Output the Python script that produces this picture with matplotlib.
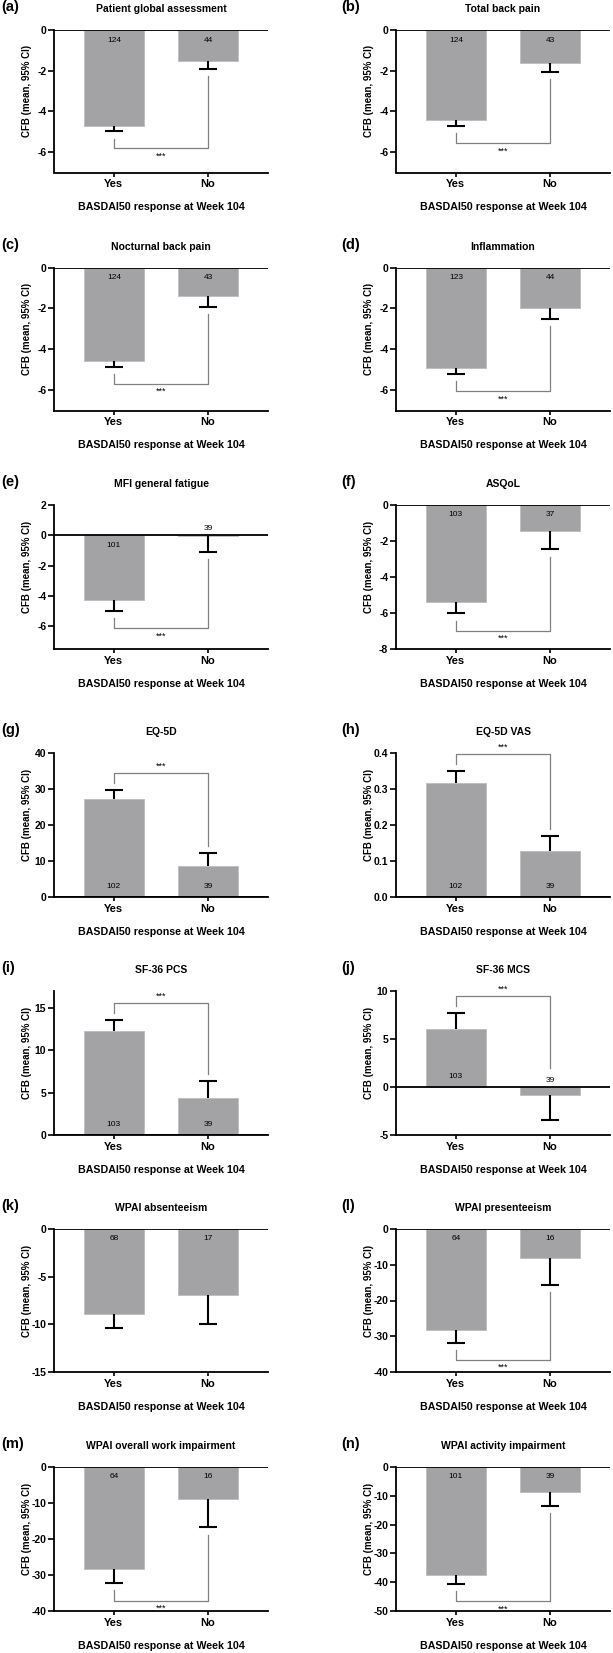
import numpy as np
import matplotlib
matplotlib.use('Agg')
import matplotlib.pyplot as plt

plt.rcParams['font.family'] = ['Liberation Sans', 'DejaVu Sans']
plt.rcParams['axes.unicode_minus'] = False

# data
letters = ['(a)', '(b)', '(c)', '(d)', '(e)', '(f)', '(g)', '(h)', '(i)', '(j)', '(k)', '(l)', '(m)', '(n)']
titles = ['Patient global assessment', 'Total back pain', 'Nocturnal back pain', 'Inflammation',
          'MFI general fatigue', 'ASQoL', 'EQ-5D', 'EQ-5D VAS', 'SF-36 PCS', 'SF-36 MCS',
          'WPAI absenteeism', 'WPAI presenteeism', 'WPAI overall work impairment', 'WPAI activity impairment']
yes_mean = [-4.7, -4.42, -4.6, -4.9, -4.26, -5.37, 27.2, 0.318, 12.3, 6.05, -8.9, -28.2, -28.4, -37.4]
yes_ci = [-4.98, -4.71, -4.85, -5.2, -5.0, -6.02, 29.6, 0.349, 13.6, 7.66, -10.35, -31.8, -32.3, -40.5]
no_mean = [-1.5, -1.61, -1.4, -2.0, -0.05, -1.42, 8.5, 0.129, 4.4, -0.8, -6.97, -8.2, -8.8, -8.7]
no_ci = [-1.93, -2.07, -1.95, -2.5, -1.08, -2.47, 12.1, 0.169, 6.35, -3.46, -10.0, -15.7, -16.75, -13.6]
n_yes = [124, 124, 124, 123, 101, 103, 102, 102, 103, 103, 68, 64, 64, 101]
n_no = [44, 43, 43, 44, 39, 37, 39, 39, 39, 39, 17, 16, 16, 39]
y_lo = [-7, -7, -7, -7, -7.5, -8, 0, 0, 0, -5, -15, -40, -40, -50]
y_hi = [0, 0, 0, 0, 2, 0, 40, 0.4, 17, 10, 0, 0, 0, 0]
y_step = [2, 2, 2, 2, 2, 2, 10, 0.1, 5, 5, 5, 10, 10, 10]
signif = ['***'] * 10 + [''] + ['***'] * 3
groups = ['Yes', 'No']
xlab = 'BASDAI50 response at Week 104'
ylab = 'CFB (mean, 95% CI)'

W, H = 613, 1653
fig = plt.figure(figsize=(W / 100, H / 100), dpi=100)

row_top = [30, 267.5, 505, 753, 991, 1229, 1467]
row_bot = [172.5, 410.5, 649, 897, 1135, 1372, 1611]
col_left = [54, 396]
ax_w = 214
lab_x = [1, 341]
bar_c = '#a3a3a6'

for i in range(14):
    r, c = i // 2, i % 2
    top, bot = row_top[r], row_bot[r]
    left = col_left[c]
    ax = fig.add_axes([left / W, 1 - bot / H, ax_w / W, (bot - top) / H])
    lo, hi = y_lo[i], y_hi[i]
    rng = hi - lo
    ppu = (bot - top) / rng
    means = [yes_mean[i], no_mean[i]]
    cis = [yes_ci[i], no_ci[i]]
    ns = [n_yes[i], n_no[i]]

    ax.bar([0, 1], means, width=0.64, color=bar_c, edgecolor='#bdbdc0', linewidth=0.6, zorder=2)
    for x, m, ci in zip([0, 1], means, cis):
        ax.plot([x, x], [m, ci], color='k', lw=1.5, zorder=3, solid_capstyle='butt')
        ax.plot([x - 0.095, x + 0.095], [ci, ci], color='k', lw=1.5, zorder=3, solid_capstyle='butt')
    lab_y = []
    for x, m, n in zip([0, 1], means, ns):
        d = 1 if m >= 0 else -1
        if abs(m) * ppu > 15:
            yy = d * 10 / ppu
        else:
            yy = -d * 7 / ppu
        lab_y.append(yy)
        ax.text(x, yy, str(n), ha='center', va='center', fontsize=6, zorder=4)

    if signif[i]:
        if yes_mean[i] > 0:
            ends = [max(ci, m, 0, ly + 5 / ppu) for ci, m, ly in zip(cis, means, lab_y)]
            lev = max(ends) + 0.12 * rng
            starts = [e + 0.05 * rng for e in ends]
            sy = lev + 0.045 * rng
        else:
            ends = [min(ci, m, 0, ly - 5 / ppu) for ci, m, ly in zip(cis, means, lab_y)]
            lev = min(ends) - 0.12 * rng
            starts = [e - 0.05 * rng for e in ends]
            sy = lev - 0.055 * rng
        ax.plot([0, 0, 1, 1], [starts[0], lev, lev, starts[1]], color='#808080', lw=0.9,
                clip_on=False, zorder=1)
        ax.text(0.5, sy, signif[i], ha='center', va='center', fontsize=6.5, clip_on=False)

    ax.axhline(0, color='k', lw=1.3, zorder=5)
    ax.set_xlim(-0.636, 1.636)
    ax.set_ylim(lo, hi)
    st = y_step[i]
    t0 = np.ceil(lo / st - 1e-9) * st
    ticks = np.round(np.arange(t0, hi + st / 2, st), 6) + 0.0
    ax.set_yticks(ticks)
    if st < 1:
        ax.set_yticklabels(['%.1f' % abs(t) if abs(t) < 1e-9 else '%.1f' % t for t in ticks])
    else:
        ax.set_yticklabels(['%d' % round(t) for t in ticks])
    ax.set_xticks([0, 1])
    ax.set_xticklabels(groups)
    for s in ['top', 'right']:
        ax.spines[s].set_visible(False)
    for s in ['left', 'bottom']:
        ax.spines[s].set_linewidth(1.3)
    ax.tick_params(axis='y', length=4, width=1.2, labelsize=7.5, pad=1.5)
    ax.tick_params(axis='x', length=3, width=1.2, labelsize=8, pad=2)
    for t in ax.get_yticklabels() + ax.get_xticklabels():
        t.set_fontweight('bold')
    ax.set_ylabel(ylab, fontsize=7, fontweight='bold', labelpad=3)
    ax.yaxis.set_label_coords(-0.105, 0.57)

    cx = (left + ax_w / 2) / W
    fig.text(cx, 1 - (top - 21) / H, titles[i], ha='center', va='center', fontsize=7.5, fontweight='bold')
    fig.text(cx, 1 - (bot + 35) / H, xlab, ha='center', va='center', fontsize=7.7, fontweight='bold')
    fig.text(lab_x[c] / W, 1 - (top - 23) / H, letters[i], ha='left', va='center', fontsize=10.5, fontweight='bold')

fig.savefig('out.png', dpi=100)
